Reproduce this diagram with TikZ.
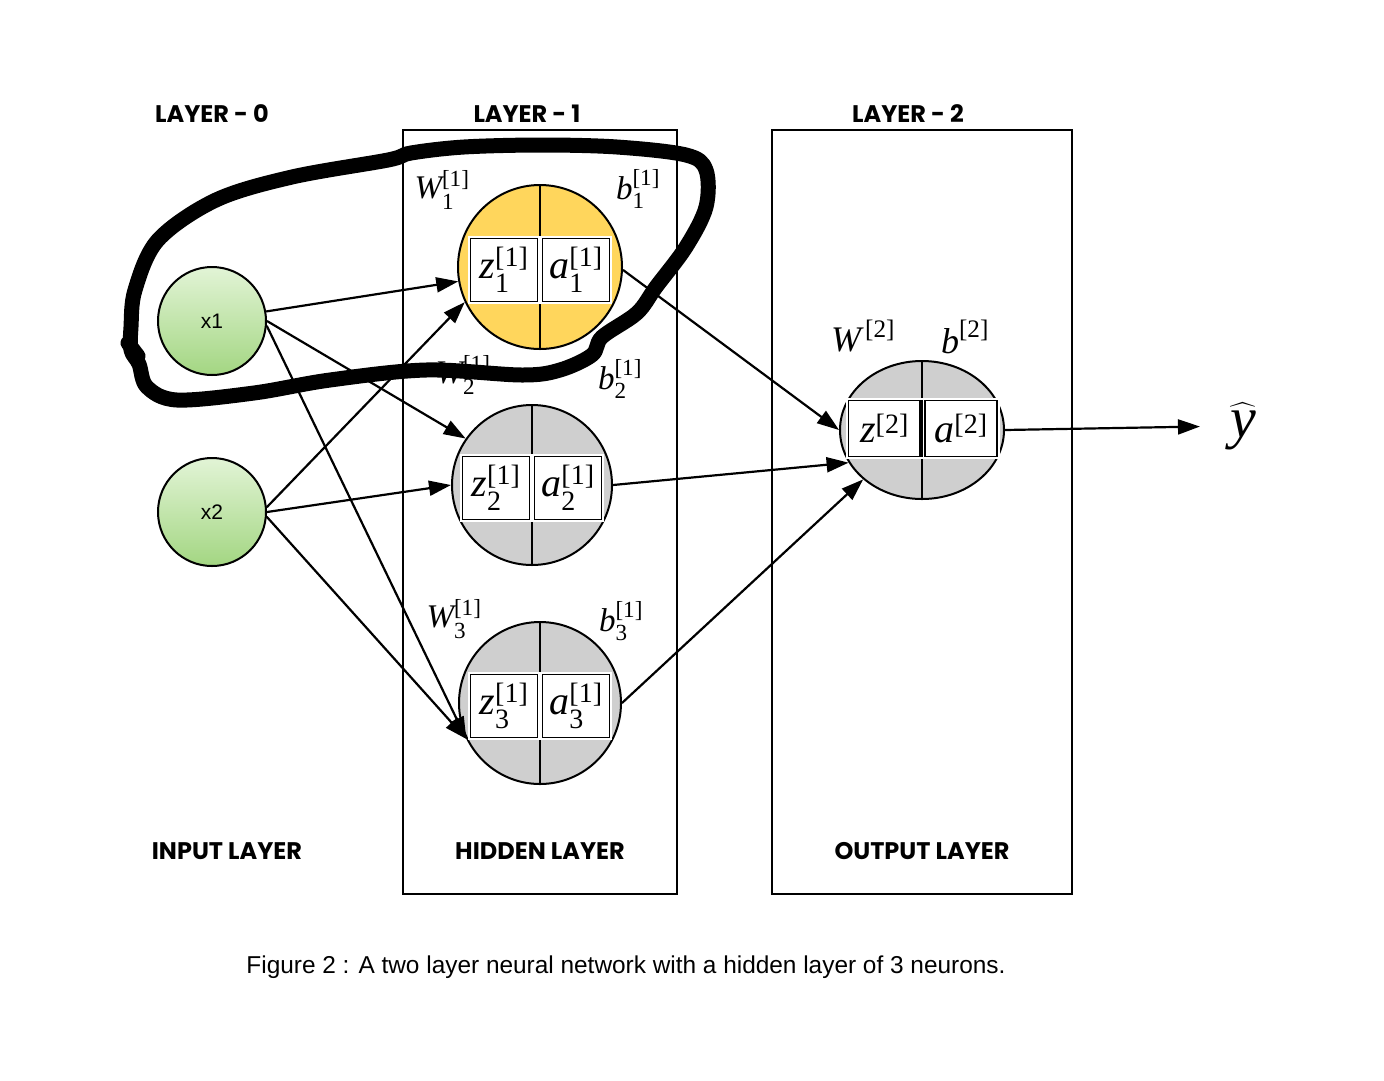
\documentclass[tikz,border=0pt]{standalone}
\usepackage{fontspec}
\usepackage{amsmath}
\setmainfont{Liberation Serif}
\setsansfont{Liberation Sans}
\newfontfamily\comicfont{Poppins}
\usetikzlibrary{arrows.meta,calc,shapes.geometric}
\definecolor{nyellow}{RGB}{255,214,92}
\definecolor{ngray}{RGB}{207,207,207}
\definecolor{gtop}{RGB}{226,244,214}
\definecolor{gbot}{RGB}{163,214,130}
\newcommand\lab[3]{$\text{\itshape #1}_{\text{#2}}^{\text{#3}}$}
\tikzset{
 layerbox/.style={draw, line width=2pt},
 inputnode/.style={circle, draw, line width=2pt, minimum size=108pt, inner sep=0pt, top color=gtop, bottom color=gbot, font=\sffamily\fontsize{21}{24}\selectfont},
 neuron/.style={circle, draw, line width=2pt, inner sep=0pt},
 halo/.style={fill=white, inner sep=0pt},
 cell/.style={draw, line width=1.4pt, fill=white, inner sep=0pt, font=\fontsize{40}{46}\selectfont},
 wlabel/.style={fill=white, inner sep=1pt, font=\fontsize{33}{38}\selectfont},
 conn/.style={line width=2.2pt, -{Triangle[length=22pt,width=15pt]}},
 layertitle/.style={font=\comicfont\bfseries\fontsize{24}{28}\selectfont},
 caption/.style={font=\sffamily\fontsize{24.4}{28}\selectfont},
 scribble/.style={line width=15pt, line join=round, line cap=round},
}
\newcommand\hiddenneuron[6]{% name, x, y, diameter, index, colour
 \node[neuron, minimum size=#4pt, fill=#6] (#1) at (#2,#3) {};
 \draw[line width=2pt] (#1.north) -- (#1.south);
 \node[halo, minimum width=72pt, minimum height=68pt] (#1hz) at ({#2-36},{#3+3}) {};
 \node[halo, minimum width=72pt, minimum height=68pt] (#1ha) at ({#2+36},{#3+3}) {};
 \node[cell, minimum width=67pt, minimum height=63pt] (#1z) at ({#2-36},{#3+3}) {\lab{z}{#5}{[1]}};
 \node[cell, minimum width=67pt, minimum height=63pt] (#1a) at ({#2+36},{#3+3}) {\lab{a}{#5}{[1]}};
}
\begin{document}
\begin{tikzpicture}[x=1pt,y=-1pt]
\useasboundingbox[fill=white] (0,0) rectangle (1384,1080);
% layer boxes
\node[layerbox, minimum width=274pt, minimum height=764pt, inner sep=0pt] (L1) at (540,512) {};
\node[layerbox, minimum width=300pt, minimum height=764pt, inner sep=0pt] (L2) at (922,512) {};
% titles
\node[layertitle] (t0) at (212,114) {LAYER - 0};
\node[layertitle] (t1) at (527,114) {LAYER - 1};
\node[layertitle] (t2) at (908,114) {LAYER - 2};
\node[layertitle] (b0) at (227,851) {INPUT LAYER};
\node[layertitle] (b1) at (540,851) {HIDDEN LAYER};
\node[layertitle] (b2) at (922,851) {OUTPUT LAYER};
% inputs
\node[inputnode] (x1) at (212,321) {x1};
\node[inputnode] (x2) at (212,512) {x2};
% hidden neurons
\hiddenneuron{n1}{540}{267}{164}{1}{nyellow}
\hiddenneuron{n2}{532}{485}{160}{2}{ngray}
\hiddenneuron{n3}{540}{703}{162}{3}{ngray}
% output neuron
\node[ellipse, draw, line width=2pt, fill=ngray, minimum width=164pt, minimum height=138pt, inner sep=0pt] (out) at (922,430) {};
\draw[line width=2pt] (out.north) -- (out.south);
\node[halo, minimum width=77pt, minimum height=61pt] (ohz) at (884.5,428.5) {};
\node[halo, minimum width=77pt, minimum height=61pt] (oha) at (961,428.5) {};
\node[cell, minimum width=72pt, minimum height=56pt] (outz) at (884.5,428.5) {$\text{\itshape z}^{\text{[2]}}$};
\node[cell, minimum width=72pt, minimum height=56pt] (outa) at (961,428.5) {$\text{\itshape a}^{\text{[2]}}$};
\draw[line width=4pt] (outz.north east) -- (outz.south east);
\node[font=\fontsize{58}{62}\selectfont, inner sep=0pt] (yhat) at (1243,426) {$\widehat{\text{\itshape y}}$};
% connectors
\draw[conn] (x1.10) -- (n1.190);
\draw[conn] (x1.0) -- (n2.145);
\draw[conn] (x1.355) -- (n3.206);
\draw[conn] (x2.5) -- (n1.205);
\draw[conn] (x2.0) -- (n2.180);
\draw[conn] (x2.355) -- (n3.206);
\draw[conn] (n1.358) -- (out.west);
\draw[conn] (n2.east) -- (out.204);
\draw[conn] (n3.east) -- (out.220);
\draw[conn, shorten >=30pt] (out.east) -- (yhat.west);
% weight labels
\node[wlabel] (w1) at (442,190) {\lab{W}{1}{[1]}};
\node[wlabel] (bb1) at (638,189) {\lab{b}{1}{[1]}};
\node[wlabel] (w2) at (463,375) {\lab{W}{2}{[1]}};
\node[wlabel] (bb2) at (620,379) {\lab{b}{2}{[1]}};
\node[wlabel] (w3) at (454,619) {\lab{W}{3}{[1]}};
\node[wlabel] (bb3) at (621,621) {\lab{b}{3}{[1]}};
\node[wlabel, font=\fontsize{36}{40}\selectfont] (wo) at (863,336) {$\text{\itshape W}^{\,\text{[2]}}$};
\node[wlabel, font=\fontsize{36}{40}\selectfont] (bo) at (965,337) {$\text{\itshape b}^{\text{[2]}}$};
% caption
\node[caption] (cap) at (626,967) {Figure 2 : A two layer neural network with a hidden layer of 3 neurons.};
% hand-drawn scribble
\draw[scribble] plot[smooth cycle, tension=0.55] coordinates {(131,350) (139,364) (147,387) (177,400) (254,393) (330,380) (426,370) (522,375) (560,370) (592,355) (602,337) (637,313) (656,287) (686,247) (706,207) (706,170) (686,155) (617,147) (541,145) (464,147) (411,153) (388,160) (292,177) (216,200) (158,240) (135,290) (131,327)};
\draw[scribble] (128,343) -- (138,356);
\end{tikzpicture}
\end{document}
